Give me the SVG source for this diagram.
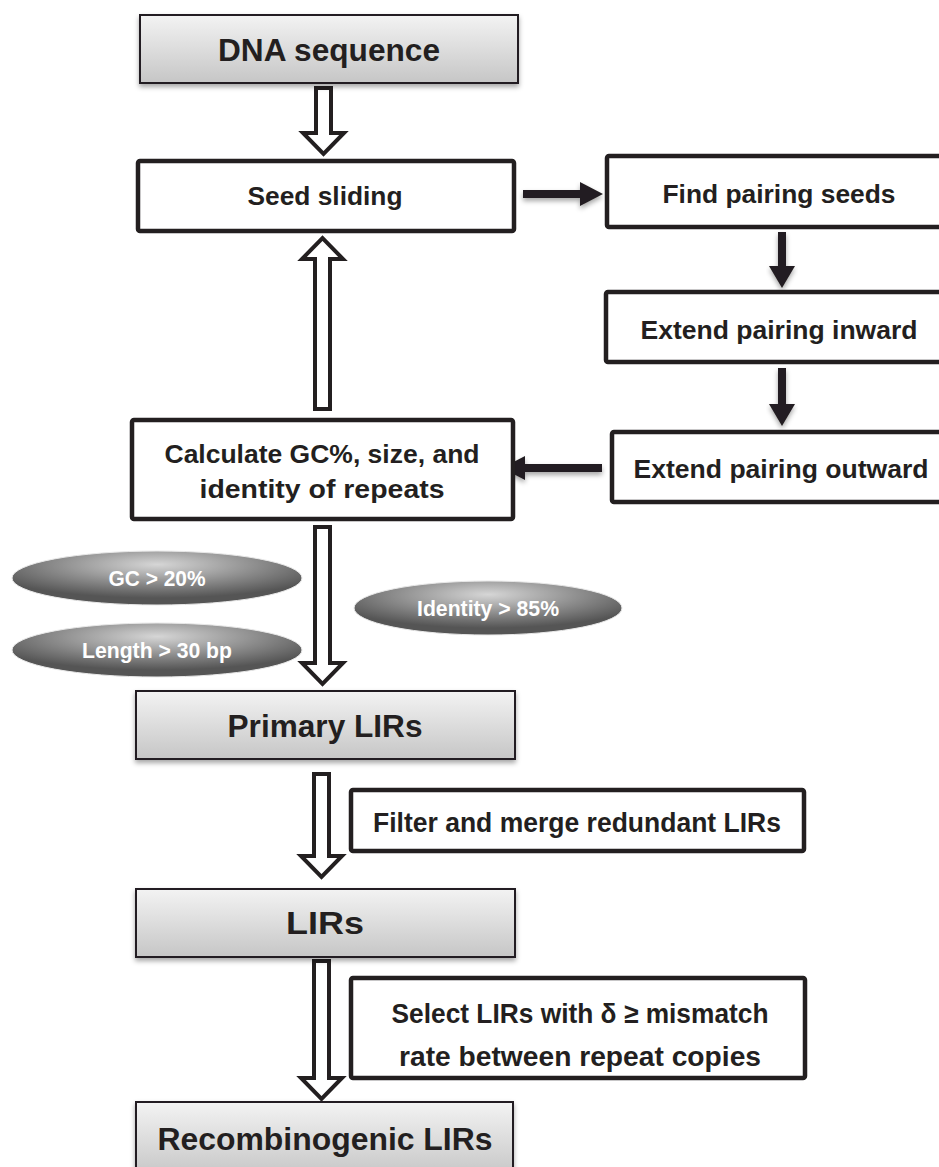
<svg xmlns="http://www.w3.org/2000/svg" width="939" height="1167" viewBox="0 0 939 1167">
<defs>
<linearGradient id="gBox" x1="0" y1="0" x2="0" y2="1">
<stop offset="0" stop-color="#f3f3f3"/>
<stop offset="1" stop-color="#c6c6c6"/>
</linearGradient>
<radialGradient id="gEll" cx="0.5" cy="0.25" r="0.62">
<stop offset="0" stop-color="#d6d6d6"/>
<stop offset="0.55" stop-color="#8e8e8e"/>
<stop offset="1" stop-color="#555555"/>
</radialGradient>
<filter id="sh" x="-10%" y="-20%" width="120%" height="150%">
<feDropShadow dx="0" dy="3" stdDeviation="2.5" flood-color="#000" flood-opacity="0.35"/>
</filter>
<style>
.grey{fill:url(#gBox);stroke:#231f20;stroke-width:2;filter:url(#sh)}
.white{fill:#fff;stroke:#231f20;stroke-width:4.5}
.ell{fill:url(#gEll);stroke:#e8e8e8;stroke-width:1}
.hollow{fill:#fff;stroke:#231f20;stroke-width:4;stroke-linejoin:miter}
.solid{fill:#231f20;filter:url(#sh)}
text{font-family:"Liberation Sans",Arial,sans-serif;font-weight:bold;fill:#231f20;text-anchor:middle}
.big{font-size:31px}
.mid{font-size:25px}
.nar{font-size:28px}
.et{font-size:22px;fill:#fff}
</style>
</defs>

<g id="connectors">
<path class="hollow" d="M316,88 H331 V133 H344 L323.5,154 L303,133 H316 Z"/>
<path class="hollow" d="M315,409 H330 V259 H343 L322.5,238 L302,259 H315 Z"/>
<path class="hollow" d="M315,527 H330 V663 H343 L322.5,684 L302,663 H315 Z"/>
<path class="hollow" d="M314,774 H329 V856 H342 L321.5,877 L301,856 H314 Z"/>
<path class="hollow" d="M314,961 H329 V1078 H342 L321.5,1099 L301,1078 H314 Z"/>
<path class="solid" d="M523,190 H580 V182 L603,194 L580,206 V198 H523 Z"/>
<path class="solid" d="M778,232 H786 V266 H795 L782,288 L769,266 H778 Z"/>
<path class="solid" d="M778,368 H786 V404 H795 L782,426 L769,404 H778 Z"/>
<path class="solid" d="M602,464 H525 V456 L502,468 L525,480 V472 H602 Z"/>
</g>

<g id="n-dna">
<rect class="grey" x="140" y="15" width="378" height="68"/>
<text class="big" x="329" y="61" textLength="222" lengthAdjust="spacingAndGlyphs">DNA sequence</text>
</g>

<g id="n-seed">
<rect class="white" x="138" y="161" width="376" height="70" rx="2"/>
<text class="mid" x="325" y="205" textLength="155" lengthAdjust="spacingAndGlyphs">Seed sliding</text>
</g>

<g id="n-find">
<rect class="white" x="607" y="156" width="350" height="71" rx="2"/>
<text class="mid" x="779" y="203" textLength="233" lengthAdjust="spacingAndGlyphs">Find pairing seeds</text>
</g>

<g id="n-inward">
<rect class="white" x="606" y="292" width="350" height="70" rx="2"/>
<text class="mid" x="779" y="339" textLength="277" lengthAdjust="spacingAndGlyphs">Extend pairing inward</text>
</g>

<g id="n-outward">
<rect class="white" x="612" y="432" width="350" height="70" rx="2"/>
<text class="mid" x="781" y="478" textLength="295" lengthAdjust="spacingAndGlyphs">Extend pairing outward</text>
</g>

<g id="n-calc">
<rect class="white" x="132" y="420" width="381" height="99" rx="2"/>
<text class="mid" x="322" y="463" textLength="315" lengthAdjust="spacingAndGlyphs">Calculate GC%, size, and</text>
<text class="mid" x="322" y="498" textLength="245" lengthAdjust="spacingAndGlyphs">identity of repeats</text>
</g>

<g id="n-gc">
<ellipse class="ell" cx="157" cy="578" rx="145" ry="27"/>
<text class="et" x="157" y="586" textLength="97" lengthAdjust="spacingAndGlyphs">GC &gt; 20%</text>
</g>

<g id="n-length">
<ellipse class="ell" cx="157" cy="650" rx="145" ry="27"/>
<text class="et" x="157" y="658" textLength="150" lengthAdjust="spacingAndGlyphs">Length &gt; 30 bp</text>
</g>

<g id="n-identity">
<ellipse class="ell" cx="488" cy="608" rx="134" ry="27"/>
<text class="et" x="488" y="616" textLength="142" lengthAdjust="spacingAndGlyphs">Identity &gt; 85%</text>
</g>

<g id="n-primary">
<rect class="grey" x="136" y="691" width="379" height="68"/>
<text class="big" x="325" y="737" textLength="195" lengthAdjust="spacingAndGlyphs">Primary LIRs</text>
</g>

<g id="n-filter">
<rect class="white" x="351" y="790" width="453" height="61" rx="2"/>
<text class="nar" x="577" y="832" textLength="408" lengthAdjust="spacingAndGlyphs">Filter and merge redundant LIRs</text>
</g>

<g id="n-lirs">
<rect class="grey" x="136" y="889" width="379" height="68"/>
<text class="big" x="325" y="934" textLength="78" lengthAdjust="spacingAndGlyphs">LIRs</text>
</g>

<g id="n-select">
<rect class="white" x="351" y="978" width="454" height="100" rx="2"/>
<text class="nar" x="580" y="1023" textLength="377" lengthAdjust="spacingAndGlyphs">Select LIRs with δ ≥ mismatch</text>
<text class="nar" x="580" y="1066" textLength="362" lengthAdjust="spacingAndGlyphs">rate between repeat copies</text>
</g>

<g id="n-recomb">
<rect class="grey" x="136" y="1102" width="377" height="75"/>
<text class="big" x="325" y="1150" textLength="335" lengthAdjust="spacingAndGlyphs">Recombinogenic LIRs</text>
</g>
</svg>
